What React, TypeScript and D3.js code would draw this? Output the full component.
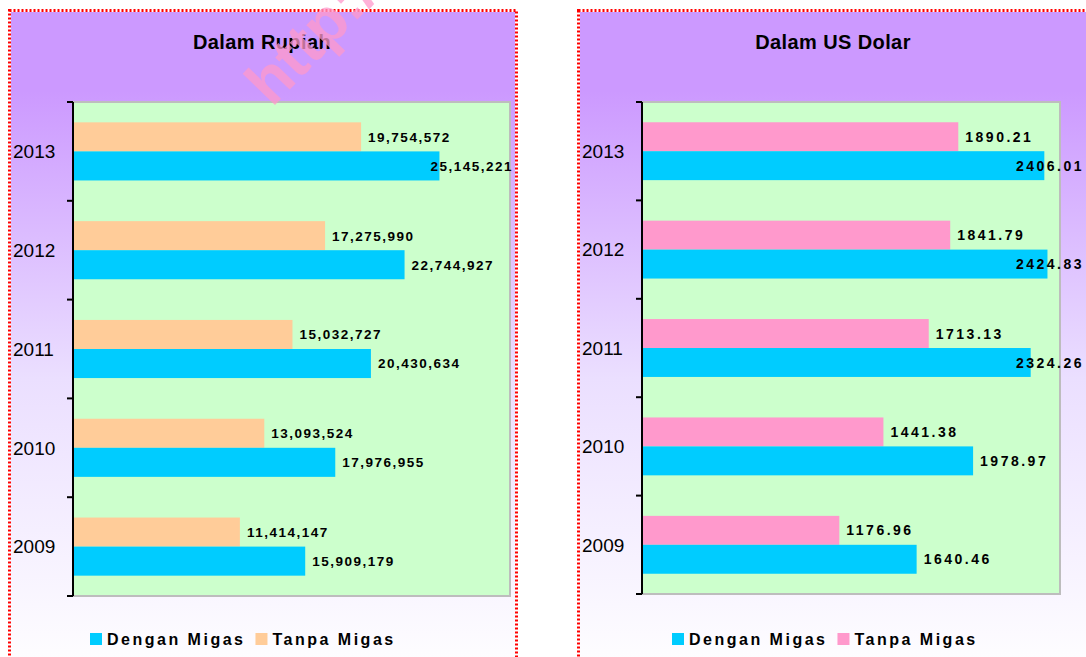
import * as d3 from "d3";
import { useEffect, useRef } from "react";

const years = ["2013", "2012", "2011", "2010", "2009"];
const series = ["Tanpa Migas", "Dengan Migas"];
const rupiahDengan = [25145221, 22744927, 20430634, 17976955, 15909179];
const rupiahTanpa = [19754572, 17275990, 15032727, 13093524, 11414147];
const usdDengan = [2406.01, 2424.83, 2324.26, 1978.97, 1640.46];
const usdTanpa = [1890.21, 1841.79, 1713.13, 1441.38, 1176.96];

const FONT = "'Liberation Sans', Arial, sans-serif";

const panels = [
  {
    title: "Dalam Rupiah",
    titleX: 262,
    box: [9.5, 10.5, 516.5, 680],
    plot: [73, 102, 510, 596],
    max: 30000000,
    dengan: rupiahDengan,
    tanpa: rupiahTanpa,
    tanpaColor: "#ffcc99",
    fmt: d3.format(","),
    labelSize: 13.5,
    labelSpacing: 1.5,
    labelMaxEnd: 513,
    legendX: 90,
    watermark: true,
  },
  {
    title: "Dalam US Dolar",
    titleX: 833,
    box: [578.5, 10.5, 1100, 680],
    plot: [642, 102, 1060, 594],
    max: 2500,
    dengan: usdDengan,
    tanpa: usdTanpa,
    tanpaColor: "#ff99cc",
    fmt: d3.format(".2f"),
    labelSize: 14,
    labelSpacing: 2.5,
    labelMaxEnd: 1084,
    legendX: 672,
    watermark: false,
  },
];

export default function App() {
  const ref = useRef<SVGSVGElement | null>(null);

  useEffect(() => {
    const svg = d3.select(ref.current);
    svg.selectAll("*").remove();

    const defs = svg.append("defs");
    const grad = defs
      .append("linearGradient")
      .attr("id", "bgGrad")
      .attr("x1", "0")
      .attr("y1", "0")
      .attr("x2", "0")
      .attr("y2", "1");
    grad.append("stop").attr("offset", "0%").attr("stop-color", "#cc99ff");
    grad.append("stop").attr("offset", "12%").attr("stop-color", "#cc99ff");
    grad.append("stop").attr("offset", "55%").attr("stop-color", "#ebdfff");
    grad.append("stop").attr("offset", "100%").attr("stop-color", "#ffffff");

    panels.forEach((p) => {
      const [bx0, by0, bx1, by1] = p.box;
      const [px0, py0, px1, py1] = p.plot;
      const g = svg.append("g");

      // background + red checkered border
      g.append("rect")
        .attr("x", bx0)
        .attr("y", by0)
        .attr("width", bx1 - bx0)
        .attr("height", by1 - by0)
        .attr("fill", "url(#bgGrad)")
        .attr("stroke", "#ffffff")
        .attr("stroke-width", 3);
      g.append("rect")
        .attr("x", bx0)
        .attr("y", by0)
        .attr("width", bx1 - bx0)
        .attr("height", by1 - by0)
        .attr("fill", "none")
        .attr("stroke", "#ff0000")
        .attr("stroke-width", 3)
        .attr("stroke-dasharray", "2 2");

      // title
      g.append("text")
        .attr("x", p.titleX)
        .attr("y", 49)
        .attr("text-anchor", "middle")
        .style("font-family", FONT)
        .style("font-weight", "bold")
        .style("font-size", "20px")
        .style("letter-spacing", "0.4px")
        .text(p.title);

      const x = d3.scaleLinear().domain([0, p.max]).range([px0 + 1, px1]);
      const y = d3.scaleBand().domain(years).range([py0, py1]);
      const sub = d3
        .scaleBand()
        .domain(series)
        .range([0, y.bandwidth()])
        .paddingInner(0)
        .paddingOuter(0.7);

      // plot area
      g.append("rect")
        .attr("x", px0)
        .attr("y", py0)
        .attr("width", px1 - px0)
        .attr("height", py1 - py0)
        .attr("fill", "#ccffcc")
        .attr("stroke", "#bdbdbd")
        .attr("stroke-width", 2);

      const rows = years.map((yr, i) => ({
        yr,
        vals: [
          { s: "Tanpa Migas", v: p.tanpa[i], c: p.tanpaColor },
          { s: "Dengan Migas", v: p.dengan[i], c: "#00ccff" },
        ],
      }));

      rows.forEach((r) => {
        r.vals.forEach((d) => {
          const yy = (y(r.yr) ?? 0) + (sub(d.s) ?? 0);
          g.append("rect")
            .attr("x", x(0))
            .attr("y", yy)
            .attr("width", x(d.v) - x(0))
            .attr("height", sub.bandwidth())
            .attr("fill", d.c);
          const t = g
            .append("text")
            .attr("y", yy + sub.bandwidth() / 2 + p.labelSize * 0.36)
            .style("font-family", FONT)
            .style("font-weight", "bold")
            .style("font-size", p.labelSize + "px")
            .style("letter-spacing", p.labelSpacing + "px")
            .text(p.fmt(d.v));
          const w = (t.node() as SVGTextElement).getComputedTextLength();
          const lx = Math.min(x(d.v) + 7, p.labelMaxEnd - w);
          t.attr("x", lx);
        });
      });

      // axis
      g.append("line")
        .attr("x1", px0)
        .attr("x2", px0)
        .attr("y1", py0)
        .attr("y2", py1)
        .attr("stroke", "#000")
        .attr("stroke-width", 2);
      const bounds = years.map((yr) => y(yr) ?? 0).concat([py1]);
      bounds.forEach((b) => {
        g.append("line")
          .attr("x1", px0 - 6)
          .attr("x2", px0)
          .attr("y1", b)
          .attr("y2", b)
          .attr("stroke", "#000")
          .attr("stroke-width", 2);
      });
      years.forEach((yr) => {
        g.append("text")
          .attr("x", bx0 + 3.5)
          .attr("y", (y(yr) ?? 0) + y.bandwidth() / 2 + 19 * 0.36)
          .style("font-family", FONT)
          .style("font-size", "19px")
          .text(yr);
      });

      // legend
      let lx = p.legendX;
      [
        { s: "Dengan Migas", c: "#00ccff" },
        { s: "Tanpa Migas", c: p.tanpaColor },
      ].forEach((d) => {
        g.append("rect")
          .attr("x", lx)
          .attr("y", 633)
          .attr("width", 12)
          .attr("height", 12)
          .attr("fill", d.c);
        const t = g
          .append("text")
          .attr("x", lx + 17)
          .attr("y", 645)
          .style("font-family", FONT)
          .style("font-weight", "bold")
          .style("font-size", "16px")
          .style("letter-spacing", "2.5px")
          .text(d.s);
        lx += 17 + (t.node() as SVGTextElement).getComputedTextLength() + 10;
      });

      if (p.watermark) {
        // faint watermark text, drawn over the title like the original
        g.append("text")
          .attr("transform", "translate(272,108) rotate(-46)")
          .style("font-family", FONT)
          .style("font-weight", "bold")
          .style("font-size", "62px")
          .style("fill", "#ff99cc")
          .style("opacity", 0.75)
          .text("http://");
      }
    });
  }, []);

  return (
    <svg
      ref={ref}
      width={1086}
      height={657}
      style={{ position: "absolute", left: 0, top: 0, background: "#fff" }}
    ></svg>
  );
}
